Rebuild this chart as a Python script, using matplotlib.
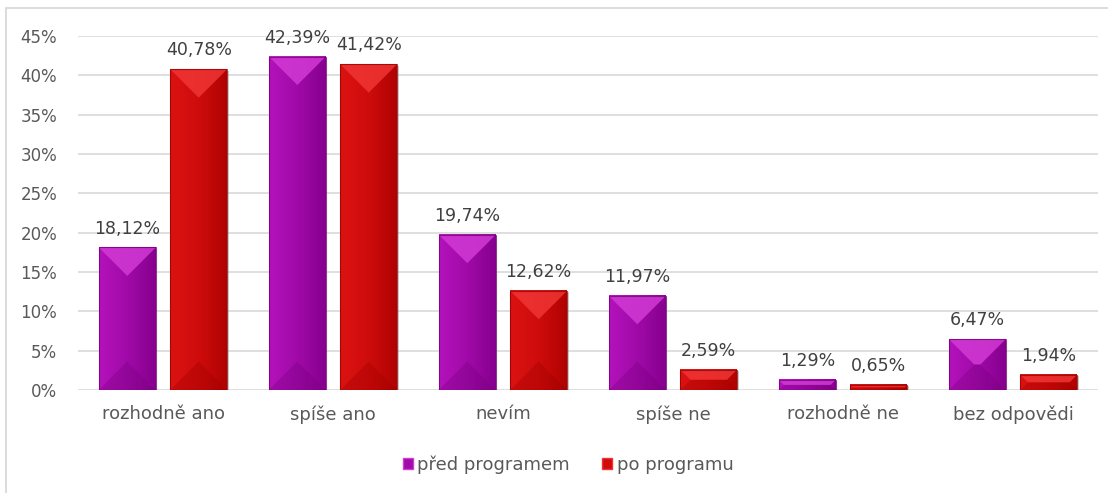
import matplotlib
matplotlib.use("Agg")
import matplotlib.pyplot as plt
from matplotlib.patches import Polygon, Rectangle, Patch
from matplotlib.colors import LinearSegmentedColormap
from matplotlib.ticker import FuncFormatter
import numpy as np

plt.rcParams['font.family'] = ['DejaVu Sans']

categories = ["rozhodně ano", "spíše ano", "nevím", "spíše ne", "rozhodně ne", "bez odpovědi"]
series_names = ["před programem", "po programu"]
pred = [18.12, 42.39, 19.74, 11.97, 1.29, 6.47]
po = [40.78, 41.42, 12.62, 2.59, 0.65, 1.94]
yticks = [0, 5, 10, 15, 20, 25, 30, 35, 40, 45]

palettes = {
    "purple": dict(main="#a00aa8", left="#b412bb", right="#86008e", top="#d23ad4",
                   bottom="#7a0080", edge="#6a0070"),
    "red": dict(main="#cf0c0c", left="#dc1212", right="#b00202", top="#f03434",
                bottom="#a00000", edge="#8a0000"),
}

W, H = 1108, 493
fig = plt.figure(figsize=(W / 100, H / 100), dpi=100)
ax_w, ax_h = 1020, 354
ax = fig.add_axes([78 / W, 1 - 390 / H, ax_w / W, ax_h / H])

# outer chart frame
fig.patches.append(Rectangle((6 / W, -0.1), 1.2, 1 - 8 / H + 0.1, transform=fig.transFigure,
                             fill=False, edgecolor="#d9d9d9", linewidth=1.3))

x = np.arange(len(categories))
bw = 0.335
off = 0.21
ax.set_xlim(-0.5, len(categories) - 0.5)
ax.set_ylim(0, 45)

bars_a = ax.bar(x - off, pred, bw, color="none", zorder=3)
bars_b = ax.bar(x + off, po, bw, color="none", zorder=3)

px_x = ax_w / len(categories)
px_y = ax_h / 45.0
grad = np.linspace(0, 1, 64).reshape(1, -1)


def draw_bar(bar, pal):
    x0 = bar.get_x()
    w = bar.get_width()
    h = bar.get_height()
    x1 = x0 + w
    cx = x0 + w / 2
    # soft drop shadow
    ax.add_patch(Rectangle((x0 + 1.5 / px_x, -1.5 / px_y), w, h, facecolor="#9a9a9a",
                           edgecolor="none", alpha=0.45, zorder=2))
    cmap = LinearSegmentedColormap.from_list("g", [pal["left"], pal["main"], pal["right"]])
    ax.imshow(grad, cmap=cmap, extent=(x0, x1, 0, h), aspect="auto", zorder=3,
              interpolation="bilinear")
    dp = min(w * px_x / 2, h * px_y / 2)
    dx, dy = dp / px_x, dp / px_y
    top_tri = [(x0, h), (x1, h), (x1 - (w / 2 - dx) if False else cx + (w / 2 - dx), h - dy),
               (cx - (w / 2 - dx), h - dy)]
    # pyramid cap: apex triangle (or trapezoid for short bars)
    ax.add_patch(Polygon([(x0, h), (x1, h), (x1 - dx, h - dy), (x0 + dx, h - dy)],
                         closed=True, facecolor=pal["top"], edgecolor="none", alpha=0.85, zorder=4))
    ax.add_patch(Polygon([(x0, 0), (x1, 0), (x1 - dx, dy), (x0 + dx, dy)],
                         closed=True, facecolor=pal["bottom"], edgecolor="none", alpha=0.35, zorder=4))
    ax.add_patch(Rectangle((x0, 0), w, h, fill=False, edgecolor=pal["edge"], linewidth=0.8,
                           alpha=0.7, zorder=5))


for b in bars_a:
    draw_bar(b, palettes["purple"])
for b in bars_b:
    draw_bar(b, palettes["red"])


def fmt(v):
    return f"{v:.2f}".replace(".", ",") + "%"


for bars, vals in ((bars_a, pred), (bars_b, po)):
    for b, v in zip(bars, vals):
        ax.annotate(fmt(v), (b.get_x() + b.get_width() / 2, v), xytext=(0, 7),
                    textcoords="offset points", ha="center", va="bottom",
                    fontsize=12.5, color="#404040", zorder=6)

ax.set_yticks(yticks)
ax.yaxis.set_major_formatter(FuncFormatter(lambda v, p: f"{int(v)}%"))
ax.set_xticks(x)
ax.set_xticklabels(categories, fontsize=13)
ax.tick_params(axis="both", length=0, labelcolor="#595959")
ax.tick_params(axis="y", pad=15, labelsize=12)
ax.tick_params(axis="x", pad=11)
ax.grid(axis="y", color="#d9d9d9", linewidth=1.2, zorder=0)
ax.set_axisbelow(True)
for s in ax.spines.values():
    s.set_visible(False)

handles = [Patch(facecolor=palettes["purple"]["main"], edgecolor=palettes["purple"]["top"]),
           Patch(facecolor=palettes["red"]["main"], edgecolor=palettes["red"]["top"])]
fig.legend(handles, series_names, loc="center", bbox_to_anchor=(568 / W, 1 - 465 / H),
           ncol=2, frameon=False, fontsize=13, labelcolor="#595959",
           handlelength=0.55, handleheight=0.55, handletextpad=0.25, columnspacing=1.8)

fig.savefig("out.png", dpi=100)
